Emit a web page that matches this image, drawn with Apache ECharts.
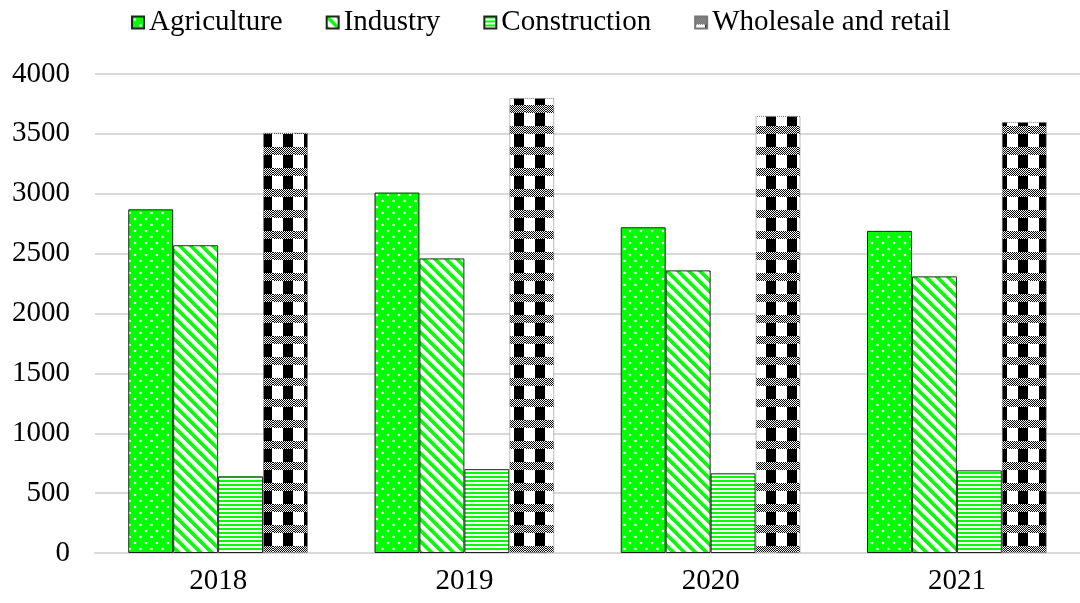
<!DOCTYPE html>
<html lang="en">
<head>
  <meta charset="UTF-8">
  <title>Sectors</title>
  <script src="https://cdn.jsdelivr.net/npm/echarts@6/dist/echarts.min.js"></script>
  <style>
    html, body { margin: 0; padding: 0; background: #fff; }
    #chart { width: 1080px; height: 603px; }
  </style>
</head>
<body>
  <div id="chart"></div>
  <script>
    const years = ['2018', '2019', '2020', '2021'];
    const agriculture = [2870, 3010, 2720, 2690];
    const industry = [2570, 2460, 2360, 2310];
    const construction = [640, 700, 665, 690];
    const wholesale = [3510, 3800, 3650, 3600];
    const seriesNames = ['Agriculture', 'Industry', 'Construction', 'Wholesale and retail'];

    // small canvas tiles used as fill patterns
    function tile(w, h, draw) {
      const c = document.createElement('canvas');
      c.width = w; c.height = h;
      draw(c.getContext('2d'), w, h);
      return { image: c, repeat: 'repeat' };
    }

    const green = '#00ff00';

    const dotFill = tile(11, 12, (g, w, h) => {
      g.fillStyle = green; g.fillRect(0, 0, w, h);
      g.fillStyle = '#ffffff';
      g.beginPath(); g.arc(3, 3, 1.3, 0, Math.PI * 2); g.fill();
      g.beginPath(); g.arc(8.5, 9, 1.3, 0, Math.PI * 2); g.fill();
    });

    const diagFill = tile(11, 11, (g, w, h) => {
      g.fillStyle = '#ffffff'; g.fillRect(0, 0, w, h);
      g.strokeStyle = green; g.lineWidth = 3.6;
      for (let k = -1; k <= 1; k++) {
        g.beginPath(); g.moveTo(k * w - 1, -1); g.lineTo(k * w + w + 1, h + 1); g.stroke();
      }
    });

    const hFill = tile(4, 4, (g, w, h) => {
      g.fillStyle = '#ffffff'; g.fillRect(0, 0, w, h);
      g.fillStyle = green; g.fillRect(0, 0, w, 2);
    });

    const checkFill = tile(21, 21, (g, w, h) => {
      g.fillStyle = '#ffffff'; g.fillRect(0, 0, w, h);
      g.fillStyle = '#000000';
      for (let y = 0; y < 8; y++) {
        for (let x = 0; x < w; x++) {
          if ((x + y) % 2 === 0) g.fillRect(x, y, 1, 1);
        }
      }
      g.fillRect(10, 8, 10, 13);
    });

    const fills = [dotFill, diagFill, hFill, checkFill];
    const dataSets = [agriculture, industry, construction, wholesale];

    const chart = echarts.init(document.getElementById('chart'));
    const font = 'Liberation Serif';

    chart.setOption({
      backgroundColor: '#ffffff',
      animation: false,
      textStyle: { fontFamily: font },
      legend: {
        top: 3,
        left: 126,
        itemWidth: 12,
        itemHeight: 12,
        itemGap: 43,
        icon: 'rect',
        textStyle: { fontFamily: font, fontSize: 29, color: '#000' },
        data: seriesNames
      },
      grid: { left: 95, right: 0, top: 74, bottom: 50 },
      xAxis: {
        type: 'category',
        data: years,
        axisTick: { show: false },
        axisLine: { lineStyle: { color: '#d9d9d9', width: 2 } },
        axisLabel: { fontFamily: font, fontSize: 29, color: '#000', margin: 14 }
      },
      yAxis: {
        type: 'value',
        min: 0,
        max: 4000,
        interval: 500,
        axisLine: { show: false },
        axisTick: { show: false },
        splitLine: { lineStyle: { color: '#d9d9d9', width: 2 } },
        axisLabel: {
          fontFamily: font, fontSize: 29, color: '#000', margin: 25,
          formatter: v => String(v)
        }
      },
      series: seriesNames.map((name, i) => ({
        name: name,
        type: 'bar',
        data: dataSets[i],
        barGap: '0%',
        barCategoryGap: '27%',
        itemStyle: {
          color: fills[i],
          borderColor: i === 3 ? '#777' : '#222',
          borderWidth: 1,
          borderType: i === 3 ? 'dotted' : 'solid'
        }
      }))
    });
  </script>
</body>
</html>
